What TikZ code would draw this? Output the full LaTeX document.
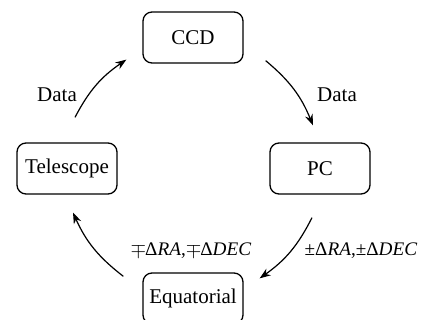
\documentclass[tikz,border=0pt]{standalone}
\usepackage{fontspec}
\setmainfont{Liberation Serif}
\usetikzlibrary{arrows.meta}

\tikzset{
  unit/.style={draw, line width=0.65pt, rounded corners=4.5pt,
    minimum width=50pt, minimum height=25.5pt, inner sep=0pt},
  flow/.style={-{Stealth[length=5.5pt, width=4pt]}, line width=0.6pt},
  lab/.style={inner sep=0pt},
  offset/.style={lab, font=\fontsize{9.6}{12}\selectfont},
}

\begin{document}
\begin{tikzpicture}[x=0.5pt, y=-0.5pt, font=\fontsize{10.5}{12}\selectfont]
    \clip (0,0) rectangle (425,320);
    % the four units of the loop
    \node[unit] (ccd) at (193,37.5)  {CCD};
    \node[unit] (pc)  at (320,168.5) {PC};
    \node[unit] (tel) at (67,168.5)  {Telescope};
    \node[unit] (eq)  at (193,298.5) {Equatorial};
    % clockwise flow
    \draw[flow] ([shift={(8,-25)}]tel.north) to[bend left=14] ([shift={(-16,-4)}]ccd.south west);
    \draw[flow] ([shift={(22,-3)}]ccd.south east) to[bend left=14] ([shift={(-7,-17)}]pc.north);
    \draw[flow] ([shift={(-8,23)}]pc.south) to[bend left=14] ([shift={(16,6)}]eq.north east);
    \draw[flow] ([shift={(-19,4)}]eq.north west) to[bend left=14] ([shift={(6,18)}]tel.south);
    % labels
    \node[lab] (d1) at (57,95)  {Data};
    \node[lab] (d2) at (337,95) {Data};
    \node[offset] (m1) at (191,251) {$\mp$\kern-0.5ptΔ\textit{RA},$\mp$\kern-0.5ptΔ\textit{DEC}};
    \node[offset] (m2) at (361,251) {±Δ\textit{RA},±Δ\textit{DEC}};
\end{tikzpicture}
\end{document}
